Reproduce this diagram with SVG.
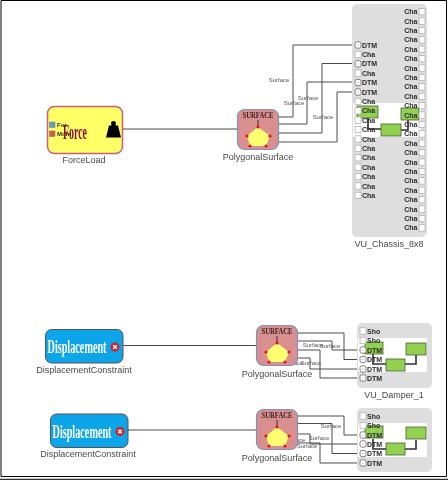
<svg xmlns="http://www.w3.org/2000/svg" xmlns:xlink="http://www.w3.org/1999/xlink" width="448" height="480" viewBox="0 0 448 480">
<style>
text{font-family:"Liberation Sans",Arial,sans-serif;fill:#333}
.lbl{font-size:9px;text-anchor:middle;fill:#484848}
.sf{font-size:6px;text-anchor:middle;fill:#555}
.pl{font-size:7px;font-weight:bold;fill:#2a2a2a}
.r{text-anchor:end}
.p{fill:#fff;stroke:#aaa;stroke-width:.7}
.d{fill:#fff;stroke:#666;stroke-width:.8}
.w{fill:none;stroke:#4a4a4a;stroke-width:1}
.t{fill:none;stroke:#2f2f2f;stroke-width:1.6}
.g{fill:#92d050;stroke:#4a5a3a;stroke-width:.8}
.box{fill:#dedede}
.disp{fill:#0ea5e9;stroke:#555;stroke-width:1}
.dt{font-family:"Liberation Serif",serif;font-size:18px;font-weight:bold;fill:#fff;text-anchor:middle}
.st{font-family:"Liberation Serif",serif;font-size:7.500px;font-weight:bold;fill:#3a2020;text-anchor:middle}
.b{fill:none;stroke:#000;stroke-width:1}
</style>
<defs>
<filter id="soft" x="0" y="0" width="100%" height="100%"><feGaussianBlur stdDeviation="0.3"/></filter>
<g id="surf">
<rect x="0.5" y="0.5" width="41" height="40" rx="7" fill="#d98f8f" stroke="#7f93bb" stroke-width="1.2"/>
<path d="M21 11V17" stroke="#333" stroke-width="1"/>
<polygon points="21,18 33,27 29,37 13,37 10,27" fill="#ffff70"/>
<g fill="#f01010"><circle cx="21" cy="18" r="1.6"/><circle cx="33" cy="27" r="1.6"/><circle cx="29" cy="37" r="1.6"/><circle cx="13" cy="37" r="1.6"/><circle cx="10" cy="27" r="1.6"/></g>
</g>
<g id="xmark"><circle r="4.500" fill="#d3202c"/><path d="M-1.800-1.800L1.800 1.800M-1.800 1.800L1.800-1.800" stroke="#fff" stroke-width="1.300"/></g>
<g id="port"><rect width="6" height="6.4" class="p"/></g>
<g id="dtm"><rect width="6" height="6.4" rx="2" class="d"/><circle cx="3" cy="3.2" r=".6" fill="#e66"/></g>
</defs>
<rect width="448" height="480" fill="#fff"/>
<g filter="url(#soft)">
<g id="connectors">
<path class="w" d="M122 129H237"/>
<path class="w" d="M279 117H293V45H355"/>
<path class="w" d="M279 124H307V82H355"/>
<path class="w" d="M279 133H322V63.500H355"/>
<path class="w" d="M279 142H337V92H355"/>
<path class="w" d="M123 345.500H256"/>
<path class="w" d="M298 333H344V359.500H360"/>
<path class="w" d="M298 341H332V350H360"/>
<path class="w" d="M298 350H320V378H360"/>
<path class="w" d="M298 358H310V369H360"/>
<path class="w" d="M128 430H256"/>
<path class="w" d="M298 416H344V435H360"/>
<path class="w" d="M298 423.500H332V453.500H360"/>
<path class="w" d="M298 434H310V444H360"/>
<path class="w" d="M298 443H320V463H360"/>
</g>
<g id="ForceLoad">
<rect x="47.500" y="106.500" width="75" height="47" rx="7" fill="#ffff66" stroke="#c8607a" stroke-width="1.500"/>
<rect x="49.500" y="122" width="5.500" height="5.500" fill="#5aa0c8" stroke="#777" stroke-width=".5"/>
<rect x="49.500" y="131" width="5.500" height="5.500" fill="#d05a5a" stroke="#777" stroke-width=".5"/>
<text class="pl" x="57" y="127" style="font-size:6px">For</text>
<text class="pl" x="57" y="136" style="font-size:6px">Mom</text>
<text x="75" y="139" textLength="24" lengthAdjust="spacingAndGlyphs" style="font-family:'Liberation Serif',serif;font-size:22px;font-weight:bold;fill:#8b1030;text-anchor:middle">Force</text>
<path d="M111 122.500a2.500 2.500 0 1 1 5 0l-.6 2H118l3 12h-15l3-12h2.600z" fill="#000" transform="translate(0 1)"/>
<text class="lbl" x="84" y="163">ForceLoad</text>
</g>
<g id="PolygonalSurface1">
<use xlink:href="#surf" href="#surf" x="237" y="109"/>
<text class="st" x="258" y="118" textLength="31" lengthAdjust="spacingAndGlyphs">SURFACE</text>
<text class="lbl" x="258" y="160">PolygonalSurface</text>
</g>
<g id="surface-labels">
<text class="sf" x="279" y="82">Surface</text><text class="sf" x="294" y="105">Surface</text><text class="sf" x="308" y="100">Surface</text><text class="sf" x="323" y="119">Surface</text>
<text class="sf" x="313" y="347">Surface</text><text class="sf" x="330" y="347.500">Surface</text><text class="sf" x="293" y="365">Surface</text><text class="sf" x="311" y="365">Surface</text>
<text class="sf" x="331" y="428">Surface</text><text class="sf" x="319" y="440">Surface</text><text class="sf" x="295" y="442">Surface</text><text class="sf" x="307" y="448">Surface</text>
</g>
<g id="VU_Chassis_8x8">
<rect class="box" x="352" y="4" width="75" height="233" rx="5"/>
<rect x="353" y="103" width="68" height="34" fill="#fff"/>
<path class="t" d="M368 118V129H381M401 130H408V120"/>
<rect class="g" x="357" y="106" width="21" height="12"/>
<rect class="g" x="401" y="108" width="18" height="12"/>
<rect class="g" x="381" y="124" width="20" height="12"/>
<use xlink:href="#dtm" href="#dtm" x="355" y="41.800"/><text class="pl" x="362" y="47.500">DTM</text>
<use xlink:href="#port" href="#port" x="355" y="51.200"/><text class="pl" x="362" y="56.900">Cha</text>
<use xlink:href="#dtm" href="#dtm" x="355" y="60.600"/><text class="pl" x="362" y="66.300">DTM</text>
<use xlink:href="#port" href="#port" x="355" y="70"/><text class="pl" x="362" y="75.700">Cha</text>
<use xlink:href="#dtm" href="#dtm" x="355" y="79.400"/><text class="pl" x="362" y="85.100">DTM</text>
<use xlink:href="#dtm" href="#dtm" x="355" y="88.800"/><text class="pl" x="362" y="94.500">DTM</text>
<use xlink:href="#port" href="#port" x="355" y="98.200"/><text class="pl" x="362" y="103.900">Cha</text>
<use xlink:href="#port" href="#port" x="355" y="107.600"/><text class="pl" x="362" y="113.300">Cha</text>
<use xlink:href="#port" href="#port" x="355" y="117"/><text class="pl" x="362" y="122.700">Cha</text>
<use xlink:href="#port" href="#port" x="355" y="126.400"/><text class="pl" x="362" y="132.100">Cha</text>
<use xlink:href="#port" href="#port" x="355" y="135.800"/><text class="pl" x="362" y="141.500">Cha</text>
<use xlink:href="#port" href="#port" x="355" y="145.200"/><text class="pl" x="362" y="150.900">Cha</text>
<use xlink:href="#port" href="#port" x="355" y="154.600"/><text class="pl" x="362" y="160.300">Cha</text>
<use xlink:href="#port" href="#port" x="355" y="164"/><text class="pl" x="362" y="169.700">Cha</text>
<use xlink:href="#port" href="#port" x="355" y="173.400"/><text class="pl" x="362" y="179.100">Cha</text>
<use xlink:href="#port" href="#port" x="355" y="182.800"/><text class="pl" x="362" y="188.500">Cha</text>
<use xlink:href="#port" href="#port" x="355" y="192.200"/><text class="pl" x="362" y="197.900">Cha</text>
<use xlink:href="#port" href="#port" x="419" y="8.500"/><text class="pl r" x="417.500" y="14.200">Cha</text>
<use xlink:href="#port" href="#port" x="419" y="17.900"/><text class="pl r" x="417.500" y="23.600">Cha</text>
<use xlink:href="#port" href="#port" x="419" y="27.300"/><text class="pl r" x="417.500" y="33">Cha</text>
<use xlink:href="#port" href="#port" x="419" y="36.700"/><text class="pl r" x="417.500" y="42.400">Cha</text>
<use xlink:href="#port" href="#port" x="419" y="46.100"/><text class="pl r" x="417.500" y="51.800">Cha</text>
<use xlink:href="#port" href="#port" x="419" y="55.500"/><text class="pl r" x="417.500" y="61.200">Cha</text>
<use xlink:href="#port" href="#port" x="419" y="64.900"/><text class="pl r" x="417.500" y="70.600">Cha</text>
<use xlink:href="#port" href="#port" x="419" y="74.300"/><text class="pl r" x="417.500" y="80">Cha</text>
<use xlink:href="#port" href="#port" x="419" y="83.700"/><text class="pl r" x="417.500" y="89.400">Cha</text>
<use xlink:href="#port" href="#port" x="419" y="93.100"/><text class="pl r" x="417.500" y="98.800">Cha</text>
<use xlink:href="#port" href="#port" x="419" y="102.500"/><text class="pl r" x="417.500" y="108.200">Cha</text>
<use xlink:href="#port" href="#port" x="419" y="111.900"/><text class="pl r" x="417.500" y="117.600">Cha</text>
<use xlink:href="#port" href="#port" x="419" y="121.300"/><text class="pl r" x="417.500" y="127">Cha</text>
<use xlink:href="#port" href="#port" x="419" y="130.700"/><text class="pl r" x="417.500" y="136.400">Cha</text>
<use xlink:href="#port" href="#port" x="419" y="140.100"/><text class="pl r" x="417.500" y="145.800">Cha</text>
<use xlink:href="#port" href="#port" x="419" y="149.500"/><text class="pl r" x="417.500" y="155.200">Cha</text>
<use xlink:href="#port" href="#port" x="419" y="158.900"/><text class="pl r" x="417.500" y="164.600">Cha</text>
<use xlink:href="#port" href="#port" x="419" y="168.300"/><text class="pl r" x="417.500" y="174">Cha</text>
<use xlink:href="#port" href="#port" x="419" y="177.700"/><text class="pl r" x="417.500" y="183.400">Cha</text>
<use xlink:href="#port" href="#port" x="419" y="187.100"/><text class="pl r" x="417.500" y="192.800">Cha</text>
<use xlink:href="#port" href="#port" x="419" y="196.500"/><text class="pl r" x="417.500" y="202.200">Cha</text>
<use xlink:href="#port" href="#port" x="419" y="205.900"/><text class="pl r" x="417.500" y="211.600">Cha</text>
<use xlink:href="#port" href="#port" x="419" y="215.300"/><text class="pl r" x="417.500" y="221">Cha</text>
<use xlink:href="#port" href="#port" x="419" y="224.700"/><text class="pl r" x="417.500" y="230.400">Cha</text>
<text class="lbl" x="389" y="247">VU_Chassis_8x8</text>
</g>
<g id="DisplacementConstraint1">
<rect class="disp" x="45.500" y="329.500" width="77.500" height="33.500" rx="6"/>
<text class="dt" x="77" y="353" textLength="59" lengthAdjust="spacingAndGlyphs">Displacement</text>
<use xlink:href="#xmark" href="#xmark" x="115" y="347"/>
<text class="lbl" x="84" y="373">DisplacementConstraint</text>
</g>
<g id="PolygonalSurface2">
<use xlink:href="#surf" href="#surf" x="256" y="325"/>
<text class="st" x="277" y="334" textLength="31" lengthAdjust="spacingAndGlyphs">SURFACE</text>
<text class="lbl" x="277" y="377">PolygonalSurface</text>
</g>
<g id="VU_Damper_1">
<rect class="box" x="357" y="323" width="75" height="65" rx="5"/>
<rect x="358" y="338" width="69" height="34" fill="#fff"/>
<path class="t" d="M373 354V364H386M405 364H416V355"/>
<rect class="g" x="365" y="342" width="18" height="12"/>
<rect class="g" x="386" y="359" width="19" height="12"/>
<rect class="g" x="406" y="343" width="20" height="12"/>
<use xlink:href="#port" href="#port" x="360" y="327.800"/><text class="pl" x="367" y="333.500">Sho</text>
<use xlink:href="#port" href="#port" x="360" y="337.300"/><text class="pl" x="367" y="343">Sho</text>
<use xlink:href="#dtm" href="#dtm" x="360" y="346.800"/><text class="pl" x="367" y="352.500">DTM</text>
<use xlink:href="#dtm" href="#dtm" x="360" y="356.300"/><text class="pl" x="367" y="362">DTM</text>
<use xlink:href="#dtm" href="#dtm" x="360" y="365.800"/><text class="pl" x="367" y="371.500">DTM</text>
<use xlink:href="#dtm" href="#dtm" x="360" y="374.800"/><text class="pl" x="367" y="380.500">DTM</text>
<text class="lbl" x="394" y="398">VU_Damper_1</text>
</g>
<g id="DisplacementConstraint2">
<rect class="disp" x="50.500" y="414" width="77.500" height="33.500" rx="6"/>
<text class="dt" x="82" y="437.500" textLength="59" lengthAdjust="spacingAndGlyphs">Displacement</text>
<use xlink:href="#xmark" href="#xmark" x="120" y="431.500"/>
<text class="lbl" x="88" y="457">DisplacementConstraint</text>
</g>
<g id="PolygonalSurface3">
<use xlink:href="#surf" href="#surf" x="256" y="409"/>
<text class="st" x="277" y="418" textLength="31" lengthAdjust="spacingAndGlyphs">SURFACE</text>
<text class="lbl" x="277" y="461">PolygonalSurface</text>
</g>
<g id="VU_Damper_2">
<rect class="box" x="357" y="408" width="75" height="64" rx="5"/>
<rect x="358" y="423" width="69" height="34" fill="#fff"/>
<path class="t" d="M373 439V449H386M405 449H416V440"/>
<rect class="g" x="365" y="426" width="18" height="12"/>
<rect class="g" x="386" y="443" width="19" height="12"/>
<rect class="g" x="406" y="427" width="20" height="12"/>
<use xlink:href="#port" href="#port" x="360" y="412.800"/><text class="pl" x="367" y="418.500">Sho</text>
<use xlink:href="#port" href="#port" x="360" y="422.300"/><text class="pl" x="367" y="428">Sho</text>
<use xlink:href="#dtm" href="#dtm" x="360" y="431.800"/><text class="pl" x="367" y="437.500">DTM</text>
<use xlink:href="#dtm" href="#dtm" x="360" y="440.800"/><text class="pl" x="367" y="446.500">DTM</text>
<use xlink:href="#dtm" href="#dtm" x="360" y="450.300"/><text class="pl" x="367" y="456">DTM</text>
<use xlink:href="#dtm" href="#dtm" x="360" y="459.800"/><text class="pl" x="367" y="465.500">DTM</text>
<text class="lbl" x="394" y="483">VU_Damper_2</text>
</g>
</g>
<g id="frame">
<rect x="0" y="476.800" width="448" height="3.200" fill="#fff"/>
<path class="b" d="M1 0.500H446.500V476.500H1Z"/>
<path class="b" d="M0 479.300H448"/>
</g>
</svg>
